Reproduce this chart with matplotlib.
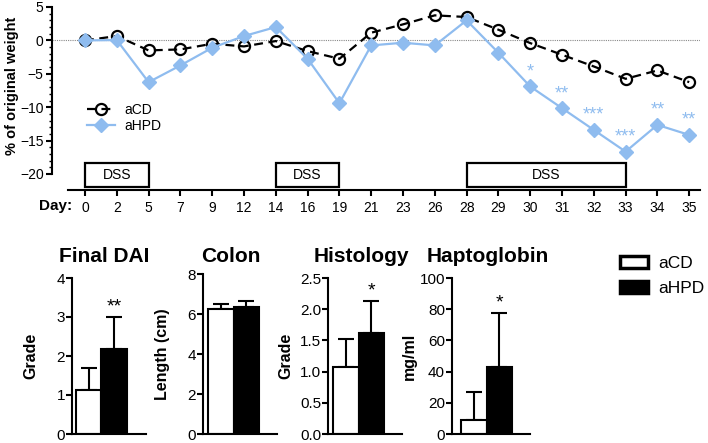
import matplotlib
matplotlib.use("Agg")
import matplotlib.pyplot as plt
from matplotlib.patches import Rectangle, Patch

plt.rcParams["font.family"] = ["Liberation Sans", "DejaVu Sans"]

W, H = 708, 443
BLUE = "#8fbcef"

# weight curve
days = ["0", "2", "5", "7", "9", "12", "14", "16", "19", "21", "23", "26",
        "28", "29", "30", "31", "32", "33", "34", "35"]
acd_weight = [0.0, 0.65, -1.5, -1.35, -0.5, -0.9, -0.1, -1.6, -2.75, 1.15, 2.4,
              3.75, 3.5, 1.6, -0.4, -2.15, -3.9, -5.75, -4.5, -6.25]
ahpd_weight = [0.0, 0.05, -6.25, -3.75, -1.1, 0.65, 2.0, -2.75, -9.4, -0.75, -0.35,
               -0.75, 3.0, -1.85, -6.9, -10.15, -13.4, -16.65, -12.65, -14.15]
sig_days = ["30", "31", "32", "33", "34", "35"]
sig_marks = ["*", "**", "***", "***", "**", "**"]
dss_periods = [("0", "5"), ("14", "19"), ("28", "33")]

# end-point bar panels
panel_titles = ["Final DAI", "Colon", "Histology", "Haptoglobin"]
panel_ylabels = ["Grade", "Length (cm)", "Grade", "mg/ml"]
acd_means = [1.14, 6.27, 1.08, 8.7]
acd_err = [0.54, 0.22, 0.45, 18.1]
ahpd_means = [2.18, 6.36, 1.62, 43.0]
ahpd_err = [0.82, 0.3, 0.51, 34.5]
panel_sig = ["**", "", "*", "*"]
panel_ymax = [4, 8, 2.5, 100]
panel_yticks = [[0, 1, 2, 3, 4], [0, 2, 4, 6, 8],
                [0.0, 0.5, 1.0, 1.5, 2.0, 2.5], [0, 20, 40, 60, 80, 100]]


def px_axes(fig, left, top, right, bottom):
    return fig.add_axes([left / W, 1 - bottom / H, (right - left) / W, (bottom - top) / H])


fig = plt.figure(figsize=(W / 100, H / 100), dpi=100)

# ---- top: body weight ----
ax = px_axes(fig, 52, 7, 700, 174)
x = list(range(len(days)))
ax.axhline(0, color="#888888", lw=0.8, ls=(0, (1, 1)), zorder=1)
ax.plot(x, acd_weight, color="black", ls=(0, (4, 2.5)), lw=1.6, marker="o", ms=8,
        mfc="none", mec="black", mew=1.6, label="aCD", zorder=3)
ax.plot(x, ahpd_weight, color=BLUE, lw=1.6, marker="D", ms=7, mec=BLUE,
        label="aHPD", zorder=4)
for d, s in zip(sig_days, sig_marks):
    i = days.index(d)
    ax.text(i, ahpd_weight[i] + 0.9, s, color=BLUE, ha="center", va="bottom", fontsize=13)

for a, b in dss_periods:
    i0, i1 = days.index(a), days.index(b)
    ax.add_patch(Rectangle((i0, -21.95), i1 - i0, 3.6, fill=False, ec="black",
                           lw=1.6, clip_on=False, zorder=2))
    ax.text((i0 + i1) / 2, -20.15, "DSS", ha="center", va="center", fontsize=10)

ax.set_ylim(-20, 5)
ax.set_xlim((52 - 85) / 31.8, (700 - 85) / 31.8)
ax.set_yticks([5, 0, -5, -10, -15, -20])
ax.set_yticks(range(-20, 6), minor=True)
ax.set_xticks(x)
ax.set_xticklabels(days, fontsize=10)
ax.spines["top"].set_visible(False)
ax.spines["right"].set_visible(False)
ax.spines["left"].set_linewidth(1.5)
ax.spines["left"].set_bounds(-20, 5)
ax.spines["bottom"].set_position(("outward", 11.5))
ax.spines["bottom"].set_linewidth(1.5)
ax.spines["bottom"].set_bounds((68 - 85) / 31.8, (700 - 85) / 31.8)
ax.tick_params(axis="y", which="major", length=4, width=1.5, labelsize=10, pad=2)
ax.tick_params(axis="y", which="minor", length=2, width=1.0)
ax.tick_params(axis="x", length=4, width=1.5, pad=4)
ax.set_ylabel("% of original weight", fontsize=10.5, fontweight="bold")
ax.yaxis.set_label_coords((19 - 52) / 648, (174 - 86) / 167)
fig.text(72 / W, 1 - 206 / H, "Day:", ha="right", va="center", fontsize=11, fontweight="bold")
ax.legend(loc="upper left", bbox_to_anchor=(80 / W, 1 - 96 / H), bbox_transform=fig.transFigure,
          frameon=False, fontsize=10, handlelength=2.0, handletextpad=0.7,
          labelspacing=0.15, borderpad=0)

# ---- bottom: bar panels ----
boxes = [(72, 278, 146, 434), (203, 274, 277, 434), (328, 278, 402, 434), (452, 278, 530, 434)]
xlims = [(-0.66, 2.25), (-0.7, 2.2), (-0.7, 2.2), (-0.85, 2.2)]
title_x = [104, 231, 361, 488]
ylabel_x = [38, 170, 293, 417]
for k in range(4):
    l, t, r, b = boxes[k]
    bx = px_axes(fig, l, t, r, b)
    bx.bar([0, 1], [acd_means[k], ahpd_means[k]], width=1.0, color=["white", "black"],
           edgecolor="black", linewidth=1.5, zorder=2)
    bx.errorbar([0, 1], [acd_means[k], ahpd_means[k]],
                yerr=[[0, 0], [acd_err[k], ahpd_err[k]]], fmt="none", ecolor="black",
                elinewidth=1.5, capsize=6, capthick=1.5, zorder=1)
    if panel_sig[k]:
        bx.text(1, ahpd_means[k] + ahpd_err[k] + panel_ymax[k] * 0.01, panel_sig[k],
                ha="center", va="bottom", fontsize=14)
    bx.set_ylim(0, panel_ymax[k])
    bx.set_xlim(*xlims[k])
    bx.set_yticks(panel_yticks[k])
    if k == 2:
        bx.set_yticklabels([f"{v:.1f}" for v in panel_yticks[k]])
    bx.set_xticks([])
    for s in ("top", "right"):
        bx.spines[s].set_visible(False)
    for s in ("left", "bottom"):
        bx.spines[s].set_linewidth(1.5)
    bx.tick_params(axis="y", length=4, width=1.5, labelsize=11, pad=1)
    bx.set_ylabel(panel_ylabels[k], fontsize=11.5, fontweight="bold")
    bx.yaxis.set_label_coords((ylabel_x[k] - l) / (r - l), 0.5)
    fig.text(title_x[k] / W, 1 - 256 / H, panel_titles[k], ha="center", va="center",
             fontsize=15, fontweight="bold")

handles = [Patch(facecolor="white", edgecolor="black", linewidth=2.5),
           Patch(facecolor="black", edgecolor="black", linewidth=2.5)]
fig.legend(handles, ["aCD", "aHPD"], loc="upper left", bbox_to_anchor=(611 / W, 1 - 247 / H),
           frameon=False, fontsize=12.5, handlelength=1.65, handleheight=0.75,
           handletextpad=0.6, labelspacing=0.55, borderpad=0)

fig.savefig("out.png", dpi=100)
